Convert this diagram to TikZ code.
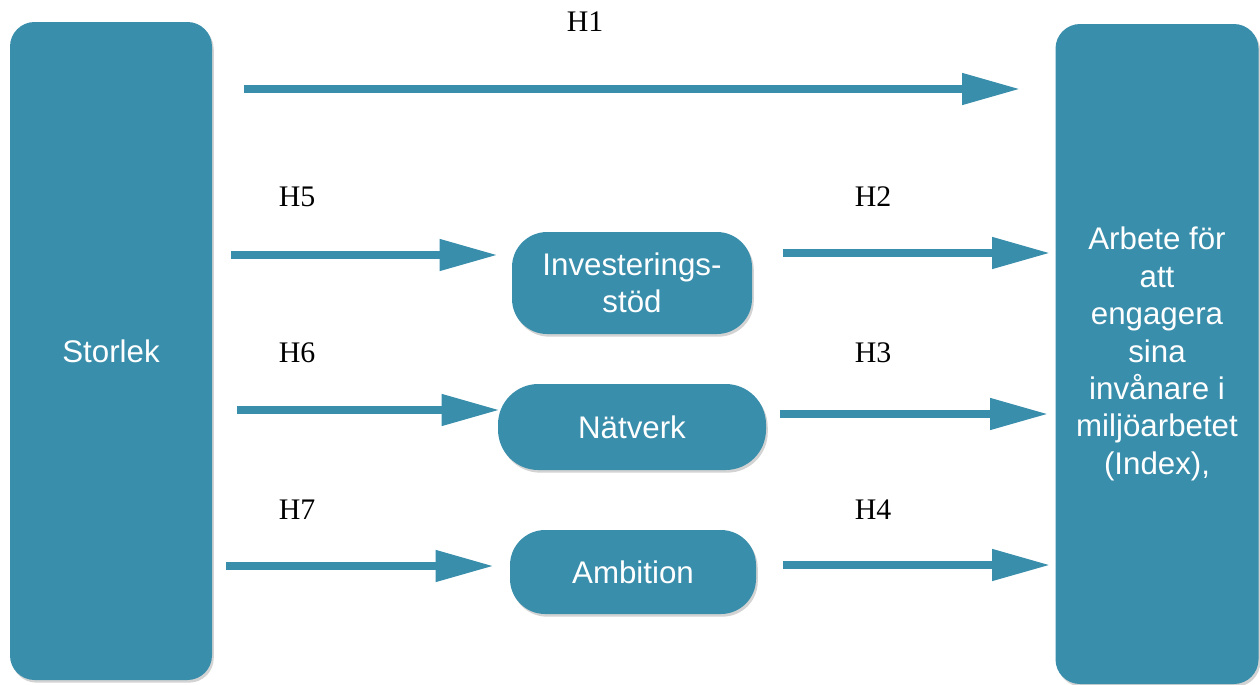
\documentclass[tikz,border=0pt]{standalone}
\usepackage{fontspec}
\setmainfont{Liberation Serif}
\newfontfamily\boxfont{Liberation Sans}
\usetikzlibrary{arrows.meta,shadows,calc}
\definecolor{teal1}{RGB}{57,142,172}
\begin{document}
\begin{tikzpicture}[x=0.02cm,y=-0.02cm,
  tbox/.style={draw=none,fill=teal1,rounded corners=14pt,
    drop shadow={shadow xshift=1pt,shadow yshift=-1.5pt,opacity=0.35},
    text=white,font=\boxfont\fontsize{17.8}{21.3}\selectfont,align=center,inner sep=0pt},
  pill/.style={tbox,rounded corners=20pt},
  conn/.style={draw=teal1,line width=4.5pt,
    -{Triangle[length=33pt,width=17pt]}},
  hlab/.style={font=\fontsize{17}{19}\selectfont,inner sep=0pt}]
\useasboundingbox (0,0) rectangle (1260,684);
% boxes
\node[tbox,minimum width=202*0.02cm,minimum height=658*0.02cm] (storlek) at (111,351) {Storlek};
\node[tbox,minimum width=203*0.02cm,minimum height=660*0.02cm] (index) at (1157,354)
  {Arbete för\\att\\engagera\\sina\\invånare i\\miljöarbetet\\(Index),};
\node[pill,minimum width=240*0.02cm,minimum height=102*0.02cm] (inv) at (632,283) {Investerings-\\stöd};
\node[pill,rounded corners=23pt,minimum width=268*0.02cm,minimum height=86*0.02cm] (nat) at (632,427) {Nätverk};
\node[pill,minimum width=246*0.02cm,minimum height=84*0.02cm] (amb) at (633,572) {Ambition};
% arrow anchor coordinates
\coordinate (s1) at (storlek.east |- 0,89);
\coordinate (s5) at (storlek.east |- 0,255);
\coordinate (s6) at (storlek.east |- 0,410);
\coordinate (s7) at (storlek.east |- 0,566);
\coordinate (e2) at (inv.east |- 0,253);
\coordinate (e3) at (nat.east |- 0,414);
\coordinate (e4) at (amb.east |- 0,565);
% connectors
\draw[conn,shorten <=32*0.02cm,shorten >=35*0.02cm] (s1) -- (s1 -| index.west);
\draw[conn,shorten <=19*0.02cm,shorten >=14*0.02cm] (s5) -- (s5 -| inv.west);
\draw[conn,shorten <=25*0.02cm,shorten >=-2*0.02cm] (s6) -- (s6 -| nat.west);
\draw[conn,shorten <=14*0.02cm,shorten >=16*0.02cm] (s7) -- (s7 -| amb.west);
\draw[conn,shorten <=31*0.02cm,shorten >=5*0.02cm] (e2) -- (e2 -| index.west);
\draw[conn,shorten <=14*0.02cm,shorten >=7*0.02cm] (e3) -- (e3 -| index.west);
\draw[conn,shorten <=27*0.02cm,shorten >=5*0.02cm] (e4) -- (e4 -| index.west);
% labels
\node[hlab] (h1) at (585,22) {H1};
\node[hlab] (h5) at (297,197) {H5};
\node[hlab] (h2) at (873,197) {H2};
\node[hlab] (h6) at (297,353) {H6};
\node[hlab] (h3) at (873,353) {H3};
\node[hlab] (h7) at (297,510) {H7};
\node[hlab] (h4) at (873,510) {H4};
\end{tikzpicture}
\end{document}
